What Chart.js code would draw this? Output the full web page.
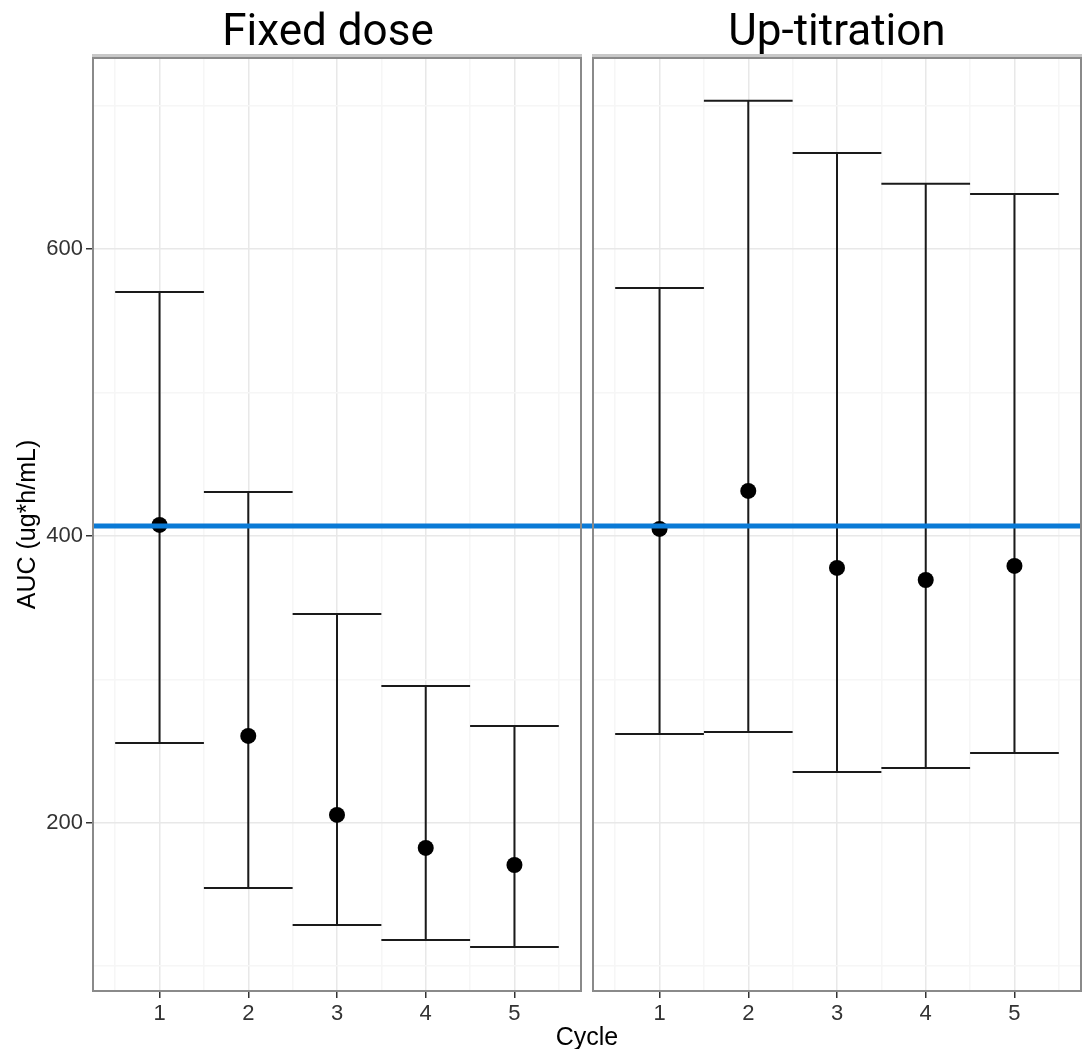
<!DOCTYPE html>
<html>
<head>
<meta charset="utf-8">
<script src="https://cdn.jsdelivr.net/npm/chart.js@4.4.1/dist/chart.umd.min.js"></script>
<style>
  html, body { margin: 0; padding: 0; background: #fff; }
  #wrap { position: relative; width: 1082px; height: 1049px; overflow: hidden; }
  .box { position: absolute; top: 0; height: 1049px; }
  .facet { position: absolute; top: 8px; line-height: 44px; font-family: Roboto, "Liberation Sans", sans-serif; font-size: 44px; color: #000; text-align: center; }
  #xTitle { position: absolute; left: 487px; width: 200px; top: 1024px; line-height: 25px; text-align: center; font-family: "Liberation Sans", Arial, sans-serif; font-size: 25px; color: #000; }
</style>
</head>
<body>
<div id="wrap">
  <div class="box" style="left:0;width:587px"><canvas id="fixedChart"></canvas></div>
  <div class="box" style="left:587px;width:495px"><canvas id="upChart"></canvas></div>
  <div class="facet" style="left:80px;width:496px">Fixed dose</div>
  <div class="facet" style="left:593px;width:488px">Up-titration</div>
  <div id="xTitle">Cycle</div>
</div>
<script>
// cycles and AUC summaries (ug*h/mL)
const cycles = [1, 2, 3, 4, 5];
const fixedMean = [407.7, 260.5, 205.4, 182.4, 170.5];
const fixedLow = [255.6, 154.4, 128.6, 118.2, 113.3];
const fixedHigh = [570.2, 430.7, 345.6, 295.4, 267.5];
const upMean = [404.9, 431.4, 377.7, 369.3, 379.1];
const upLow = [261.9, 263.3, 235.4, 238.2, 248.6];
const upHigh = [573.0, 703.5, 667.2, 645.6, 638.6];
const refAUC = 407;
const yBreaks = [100, 200, 300, 400, 500, 600, 700];
const yLabels = [200, 400, 600];
const xBreaks = [0.5, 1, 1.5, 2, 2.5, 3, 3.5, 4, 4.5, 5, 5.5];

const labelFont = { family: "'Liberation Sans', Arial, sans-serif", size: 22 };

// error bars: vertical segment plus a full-width cap at each end
const whiskers = {
  id: "whiskers",
  beforeDatasetsDraw(chart, args, opts) {
    const { ctx, scales: { x, y } } = chart;
    ctx.save();
    ctx.strokeStyle = "#1a1a1a";
    ctx.lineWidth = 2;
    cycles.forEach((c, i) => {
      const xc = x.getPixelForValue(c);
      const xl = x.getPixelForValue(c - 0.5);
      const xr = x.getPixelForValue(c + 0.5);
      const yl = y.getPixelForValue(opts.low[i]);
      const yh = y.getPixelForValue(opts.high[i]);
      ctx.beginPath();
      ctx.moveTo(xc, yl); ctx.lineTo(xc, yh);
      ctx.moveTo(xl, yl); ctx.lineTo(xr, yl);
      ctx.moveTo(xl, yh); ctx.lineTo(xr, yh);
      ctx.stroke();
    });
    ctx.restore();
  }
};

// blue reference line, runs on past the panel edge into the gap
const refLine = {
  id: "refLine",
  afterDatasetsDraw(chart, args, opts) {
    const { ctx, chartArea, scales: { y } } = chart;
    const yp = y.getPixelForValue(opts.value);
    ctx.save();
    ctx.strokeStyle = "#0a7ad6";
    ctx.lineWidth = 5;
    ctx.beginPath();
    ctx.moveTo(opts.fromEdge ? 0 : chartArea.left, yp);
    ctx.lineTo(chart.width, yp);
    ctx.stroke();
    ctx.restore();
  }
};

// panel frame and the thin grey strip on top
const frame = {
  id: "frame",
  afterDraw(chart) {
    const { ctx, chartArea: a } = chart;
    ctx.save();
    ctx.fillStyle = "#c8c8c8";
    ctx.fillRect(a.left - 1, a.top - 4, a.right - a.left + 2, 4);
    ctx.strokeStyle = "#8a8a8a";
    ctx.lineWidth = 2;
    ctx.strokeRect(a.left, a.top, a.right - a.left, a.bottom - a.top);
    ctx.restore();
  }
};

function makeChart(id, means, low, high, first) {
  const isMajorX = v => Number.isInteger(v);
  const isMajorY = v => yLabels.includes(v);
  return new Chart(document.getElementById(id), {
    type: "scatter",
    data: {
      datasets: [{
        data: cycles.map((c, i) => ({ x: c, y: means[i] })),
        pointRadius: 8,
        pointHoverRadius: 8,
        backgroundColor: "#000",
        borderWidth: 0
      }]
    },
    options: {
      responsive: true,
      maintainAspectRatio: false,
      animation: false,
      events: [],
      layout: { autoPadding: false, padding: { top: 58, right: first ? 6 : 1, bottom: 0, left: 0 } },
      plugins: {
        legend: { display: false },
        tooltip: { enabled: false },
        whiskers: { low: low, high: high },
        refLine: { value: refAUC, fromEdge: !first }
      },
      scales: {
        x: {
          type: "linear",
          min: 0.25,
          max: 5.75,
          afterBuildTicks: s => { s.ticks = xBreaks.map(v => ({ value: v })); },
          afterFit: s => { s.height = 58; s.paddingLeft = 0; s.paddingRight = 0; },
          border: { display: false },
          grid: {
            color: c => isMajorX(c.tick.value) ? "#e8e8e8" : "#f6f6f6",
            lineWidth: 1.5,
            tickLength: 7,
            tickColor: c => isMajorX(c.tick.value) ? "#333" : "rgba(0,0,0,0)",
            tickWidth: 1.5
          },
          ticks: {
            autoSkip: false,
            maxRotation: 0,
            padding: 3,
            color: "#333",
            font: labelFont,
            callback: v => isMajorX(v) ? String(v) : ""
          }
        },
        y: {
          min: 82.6,
          max: 733.4,
          afterBuildTicks: s => { s.ticks = yBreaks.map(v => ({ value: v })); },
          afterFit: s => { s.width = first ? 93 : 6; s.paddingTop = 0; s.paddingBottom = 0; },
          border: { display: false },
          title: first ? {
            display: true,
            text: "AUC (ug*h/mL)",
            color: "#000",
            font: { family: "'Liberation Sans', Arial, sans-serif", size: 25 },
            padding: { top: 13, bottom: 0 }
          } : { display: false },
          grid: {
            color: c => isMajorY(c.tick.value) ? "#e8e8e8" : "#f6f6f6",
            lineWidth: 1.5,
            drawTicks: first,
            tickLength: 7,
            tickColor: c => isMajorY(c.tick.value) ? "#333" : "rgba(0,0,0,0)",
            tickWidth: 1.5
          },
          ticks: {
            display: first,
            autoSkip: false,
            padding: 3,
            color: "#333",
            font: labelFont,
            callback: v => isMajorY(v) ? String(v) : ""
          }
        }
      }
    },
    plugins: [whiskers, refLine, frame]
  });
}

makeChart("fixedChart", fixedMean, fixedLow, fixedHigh, true);
makeChart("upChart", upMean, upLow, upHigh, false);
</script>
</body>
</html>
